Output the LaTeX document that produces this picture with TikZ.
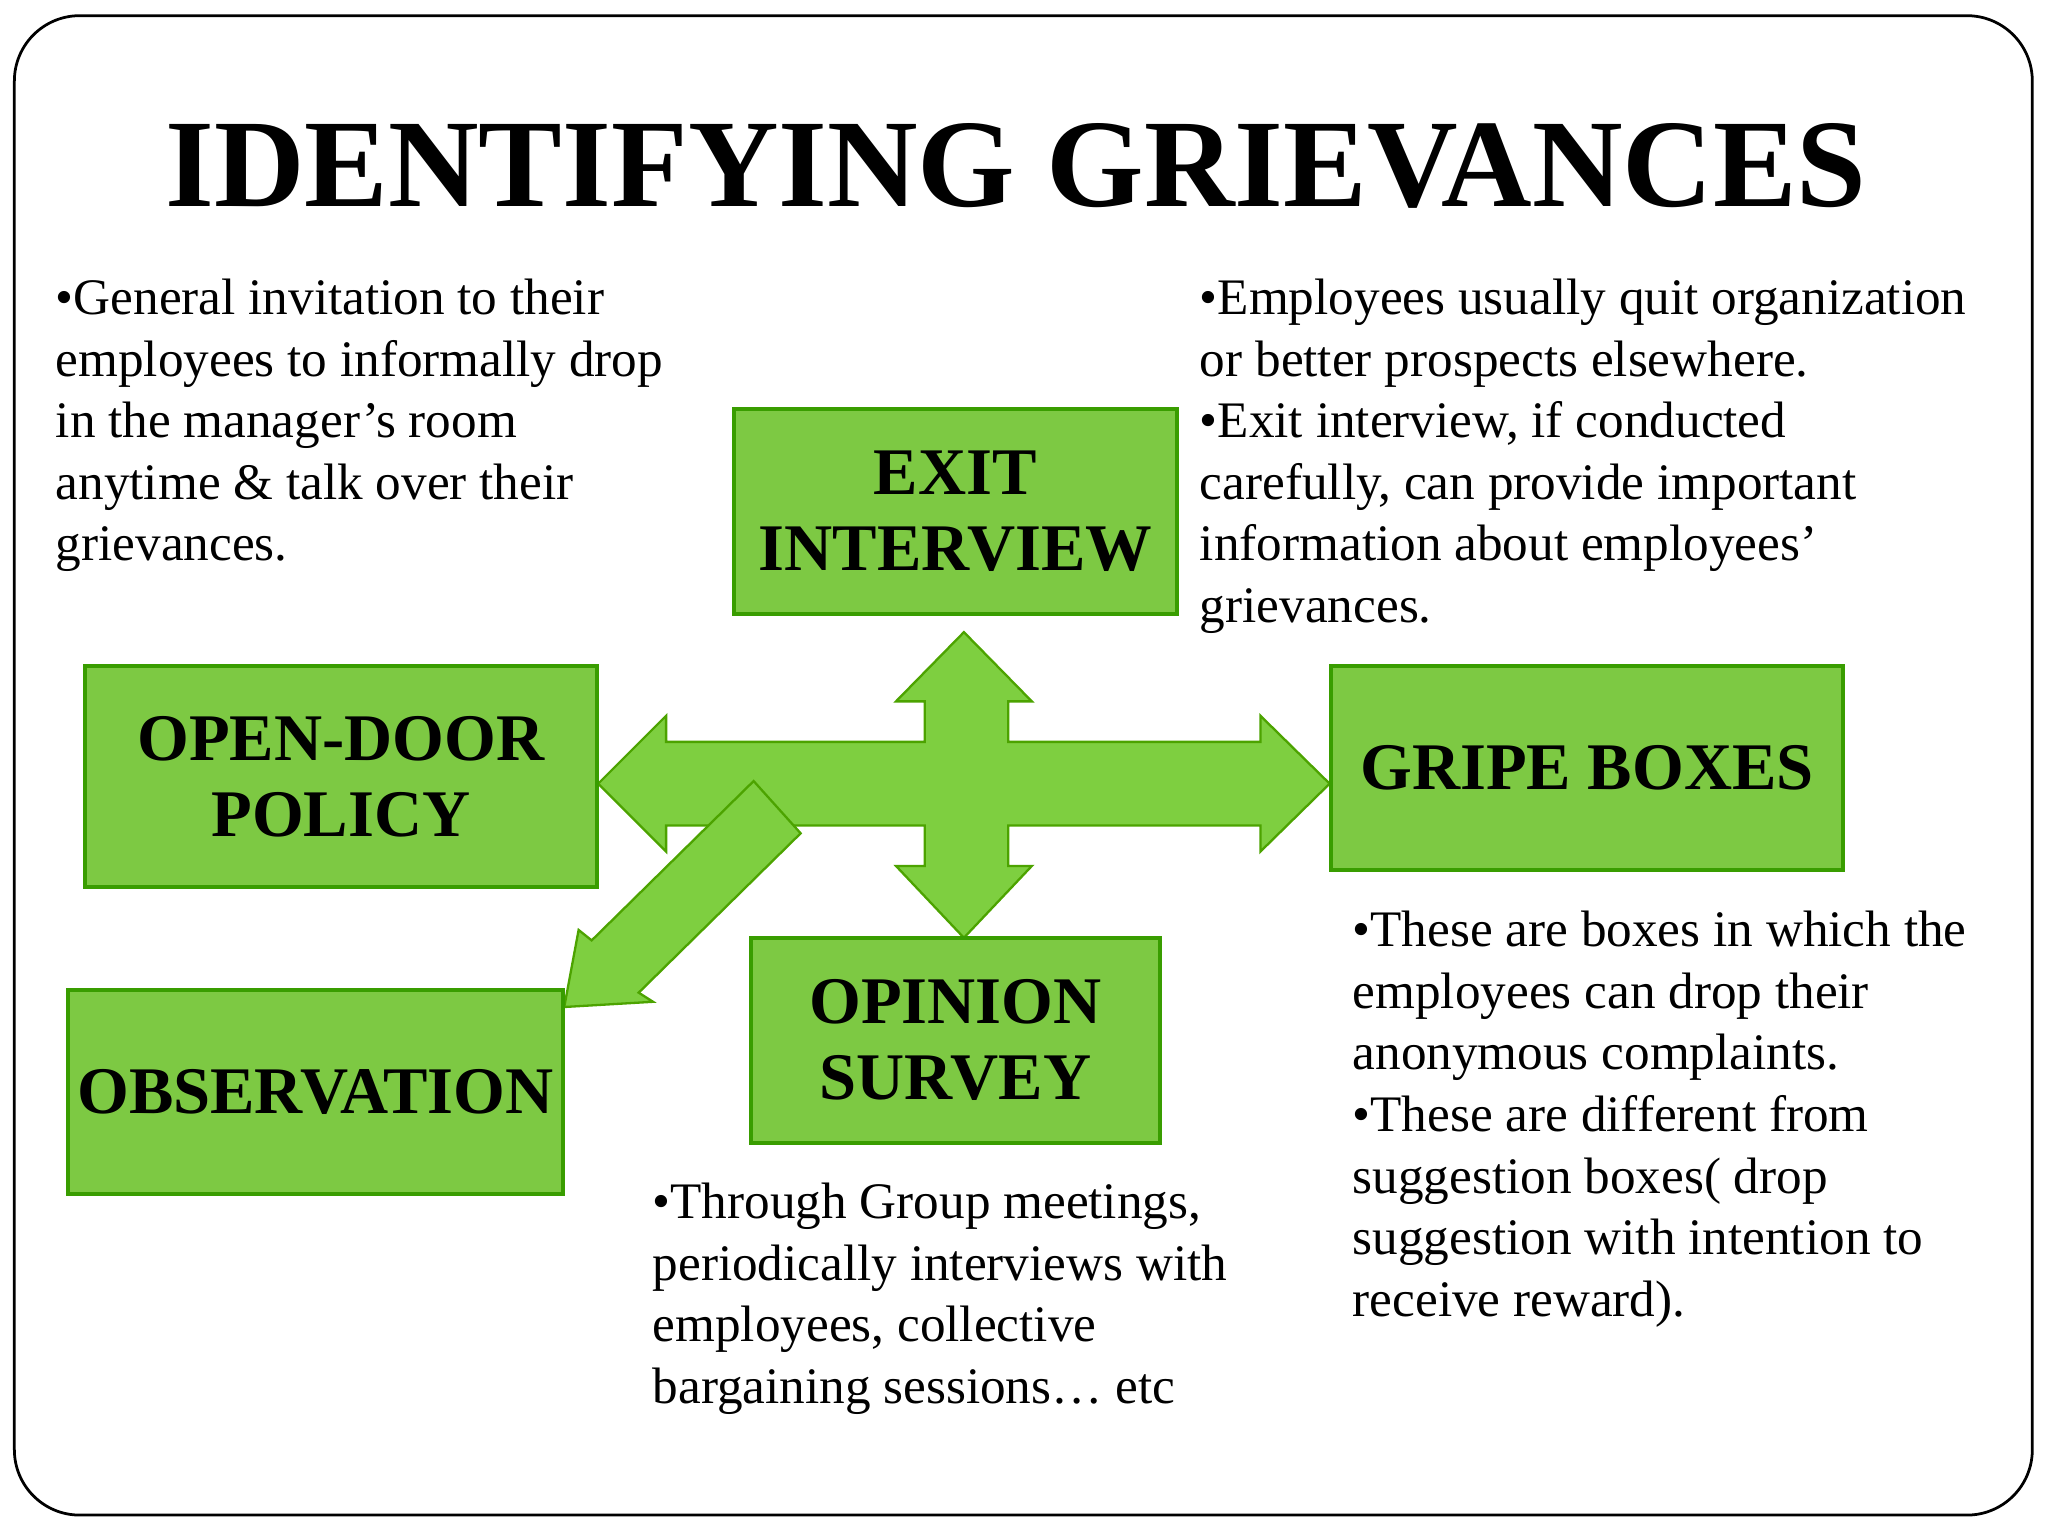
\documentclass[tikz,border=0pt]{standalone}
\usepackage{fontspec}
\setmainfont{Liberation Serif}
\begin{document}
\begin{tikzpicture}[x=0.01cm,y=-0.01cm,
  gbox/.style={draw=green!45!black!70!lime, line width=0.8pt, fill=gfill, align=center, font=\fontsize{14.5}{16.5}\selectfont\bfseries, inner sep=0pt},
  desc/.style={anchor=north west, align=left, inner sep=0pt, font=\fontsize{11.15}{13.4}\selectfont},
  arr/.style={fill=afill, draw=green!40!black!60!lime, line width=0.5pt}]
\definecolor{gfill}{HTML}{7DC943}
\definecolor{afill}{HTML}{7ECF40}
\useasboundingbox (0,0) rectangle (1568,1176);
\draw[line width=0.6pt, rounded corners=0.5cm] (11,12) rectangle (1556,1160);
\node[font=\fontsize{27.3}{30}\selectfont\bfseries] (title) at (778,127) {IDENTIFYING GRIEVANCES};
% cross arrow
\draw[arr] (458,600) -- (510,548) -- (510,568) -- (708,568) -- (708,537) -- (686,537) -- (738,484) -- (790,537) -- (772,537) -- (772,568) -- (965,568) -- (965,548) -- (1018,600) -- (965,652) -- (965,632) -- (772,632) -- (772,663) -- (790,663) -- (738,718) -- (686,663) -- (708,663) -- (708,632) -- (510,632) -- (510,652) -- cycle;
% diagonal arrow
\draw[arr] (577,598) -- (613,638) -- (489,760) -- (500,767) -- (432,771) -- (443,712) -- (453,720) -- cycle;
\node[gbox, minimum width=3.39cm, minimum height=1.57cm] (exit) at (731.5,391.5) {EXIT\\INTERVIEW};
\node[gbox, minimum width=3.92cm, minimum height=1.69cm] (open) at (261,594.5) {OPEN-DOOR\\POLICY};
\node[gbox, minimum width=3.92cm, minimum height=1.56cm] (gripe) at (1215,588) {GRIPE BOXES};
\node[gbox, minimum width=3.79cm, minimum height=1.56cm] (obs) at (241.5,836) {OBSERVATION};
\node[gbox, minimum width=3.13cm, minimum height=1.57cm] (op) at (731.5,796.5) {OPINION\\SURVEY};
\node[desc] (t1) at (42,213) {•General invitation to their\\employees to informally drop\\in the manager’s room\\anytime \& talk over their\\grievances.};
\node[desc] (t2) at (918,213) {•Employees usually quit organization\\or better prospects elsewhere.\\•Exit interview, if conducted\\carefully, can provide important\\information about employees’\\grievances.};
\node[desc] (t3) at (1035,697) {•These are boxes in which the\\employees can drop their\\anonymous complaints.\\•These are different from\\suggestion boxes( drop\\suggestion with intention to\\receive reward).};
\node[desc] (t4) at (499,905) {•Through Group meetings,\\periodically interviews with\\employees, collective\\bargaining sessions… etc};
\end{tikzpicture}
\end{document}
